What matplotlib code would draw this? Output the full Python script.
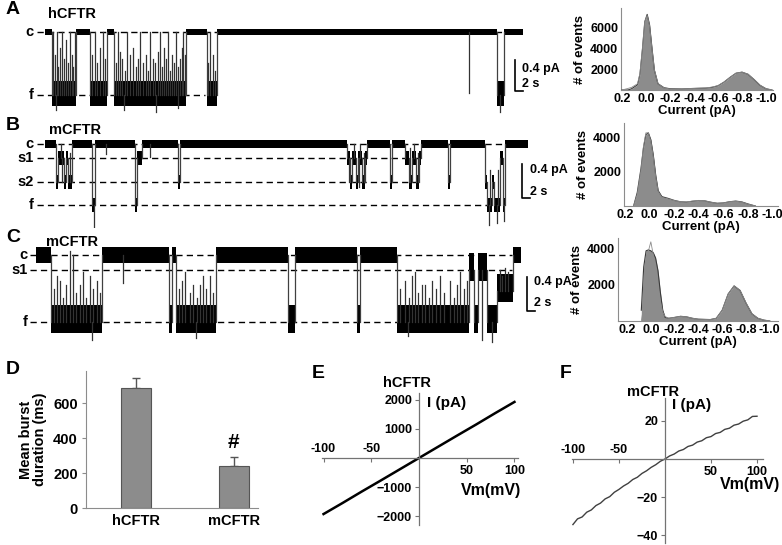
import numpy as np
import matplotlib
matplotlib.use("Agg")
import matplotlib.pyplot as plt

plt.rcParams['font.family'] = ['Liberation Sans', 'DejaVu Sans']
plt.rcParams['font.weight'] = 'bold'
plt.rcParams['axes.labelweight'] = 'bold'

W, H = 782, 545

# ---------------- data ----------------
# single channel traces: segment edges (s) and level of each segment (pA)
A_c, A_f = 0.0, -0.81
A_edges = [2.25, 4, 10, 13.5, 17.75, 19.5, 37.5, 42.75, 45.25, 115.25, 117, 121.75]
A_state = [A_c, A_f, A_c, A_f, A_c, A_f, A_c, A_f, A_c, A_f, A_c]
# brief flickers (time, level reached)
A_flick_t = [4.3, 4.75, 5.2, 5.5, 6.0, 6.5, 7.0, 7.5, 8.0, 8.5, 9.0, 9.25, 9.7,
             14.0, 14.75, 15.3, 16.0, 16.75, 17.3,
             20.0, 20.5, 21.0, 21.5, 22.2, 22.75, 23.4, 24.25, 24.9, 25.4, 26.0, 26.7,
             27.5, 28.0, 28.5, 29.2, 29.75, 30.4, 31.0, 31.5, 32.0, 32.6, 33.0, 33.6,
             34.0, 34.6, 35.0, 35.6, 36.0, 36.4, 36.75, 37.2,
             43.0, 43.5, 44.25, 44.8, 108.25,
             5.0, 22.0, 30.0, 35.5, 116.0]
A_flick_to = [0, -0.3, 0, -0.45, -0.2, 0, -0.35, -0.1, -0.4, 0, -0.3, -0.45, 0,
              -0.3, 0, -0.4, -0.2, 0, -0.35,
              -0.4, 0, -0.25, -0.35, -0.5, 0, -0.3, -0.2, -0.45, -0.35, 0, -0.4,
              -0.3, -0.5, 0, -0.35, -0.4, -0.25, 0, -0.45, -0.2, -0.35, 0, -0.5,
              -0.3, -0.4, 0, -0.45, -0.35, -0.2, 0, -0.3,
              -0.4, 0, -0.3, -0.5, -0.78,
              -1.0, -1.0, -1.02, -0.98, -1.02]
A_dash_lev = [A_c, A_f]
A_dash_end = [121, 42.25]
A_dash_lab = ['c', 'f']

B_c, B_s1, B_s2, B_f = 0.0, -0.165, -0.45, -0.72
B_edges = [2.25, 5, 5.5, 7, 7.5, 8, 9, 14, 14.75, 24.75, 25.25, 26.5, 35.5, 36, 77.75,
           78.5, 79, 80, 80.5, 81.5, 82.25, 82.75, 88.5, 89, 92.25, 93.25, 94, 95,
           95.75, 96.25, 103, 103.5, 112.25, 112.75, 114, 114.5, 116, 116.75, 117.25, 123]
B_state = [B_c, B_s2, B_s1, B_s2, B_s1, B_s2, B_c, B_f, B_c, B_f, B_s1, B_c, B_s2, B_c,
           B_s1, B_s2, B_s1, B_s2, B_s1, B_s2, B_s1, B_c, B_s2, B_c, B_s1, B_s2, B_s1,
           B_s2, B_s1, B_c, B_s2, B_c, B_s2, B_f, B_s2, B_f, B_s1, B_f, B_c]
B_flick_t = [6.2, 6.6, 8.4, 14.4, 17.5, 28.5, 78.2, 79.5, 80.8, 81, 81.9, 93.6, 94.5,
             95.4, 113.3, 113.6, 115.2, 115.6, 117.0]
B_flick_to = [0, -0.45, -0.1, -0.98, -0.12, -0.15, -0.45, 0, -0.5, 0, -0.1, -0.05, 0,
              -0.1, -0.95, -0.3, -0.93, -0.3, -0.9]
B_dash_lev = [B_c, B_s1, B_s2, B_f]
B_dash_end = [117.25, 95.75, 95.75, 113]
B_dash_lab = ['c', 's1', 's2', 'f']

C_c, C_s1, C_m, C_f = 0.0, -0.18, -0.42, -0.79
C_edges = [0, 3.75, 16.5, 33.25, 34, 35, 45, 63, 64.75, 80.25, 81, 90.25, 108.25, 109.5,
           110.5, 112.75, 115.25, 119.25, 121.25]
C_state = [C_c, C_f, C_c, C_f, C_c, C_f, C_c, C_f, C_c, C_f, C_c, C_f, C_s1, C_f, C_s1,
           C_f, C_m, C_c]
C_flick_t = [4.5, 5.2, 6.0, 6.8, 7.5, 8.5, 9.2, 10.0, 11.0, 11.8, 12.5, 13.5, 14.3, 15.2,
             16.0, 21.75,
             35.8, 36.5, 37.3, 38.5, 39.3, 40.2, 41.0, 41.8, 42.6, 43.5, 44.3,
             91.0, 92.25, 93.2, 94.0, 94.75, 95.6, 96.4, 97.25, 98.2, 99.0, 100.0, 101.0,
             102.0, 103.5, 104.4, 105.2, 106.0, 107.0, 107.8,
             116.0, 116.5, 117.3, 118.0, 14.0, 40.0, 93.0, 111.5, 114.0]
C_flick_to = [-0.4, -0.25, -0.3, -0.5, -0.35, 0.05, 0.0, -0.45, -0.35, -0.2, -0.5, -0.25,
              -0.4, -0.3, -0.45, -0.33,
              -0.4, -0.3, -0.2, -0.45, -0.35, -0.5, -0.35, -0.25, -0.4, -0.25, -0.45,
              -0.4, -0.3, -0.5, -0.25, -0.2, -0.45, -0.35, -0.35, -0.5, -0.3, -0.4, -0.25,
              -0.45, -0.3, -0.5, -0.35, -0.2, -0.4, -0.3,
              -0.18, -0.25, -0.15, -0.2, -1.0, -0.98, -0.95, -1.0, -1.02]
C_dash_lev = [C_c, C_s1, C_f]
C_dash_end = [119, 119, 90.25]
C_dash_lab = ['c', 's1', 'f']

# amplitude histograms
hist_ticks = [0.2, 0.0, -0.2, -0.4, -0.6, -0.8, -1.0]
hist_ticklabels = ['0.2', '0.0', '-0.2', '-0.4', '-0.6', '-0.8', '-1.0']

hA_x = [0.2, 0.15, 0.12, 0.07, 0.05, 0.03, 0.01, -0.01, -0.03, -0.05, -0.07, -0.1, -0.15,
        -0.2, -0.3, -0.4, -0.5, -0.55, -0.6, -0.65, -0.7, -0.75, -0.8, -0.85, -0.9,
        -0.95, -1.0, -1.05]
hA_n = [0, 0, 120, 500, 1500, 3800, 6500, 7200, 6200, 4000, 1900, 600, 220,
        120, 100, 150, 180, 250, 400, 750, 1200, 1600, 1700, 1500, 1000, 450, 120, 0]
hA_fit = [0, 150, 250, 600, 1600, 3900, 6500, 7100, 6100, 3900, 1900, 600, 200,
          100, 100, 150, 200, 280, 420, 760, 1200, 1600, 1700, 1500, 1000, 450, 120, 0]

hB_x = [0.13, 0.1, 0.07, 0.05, 0.03, 0.01, -0.01, -0.03, -0.05, -0.07, -0.1, -0.15, -0.2,
        -0.25, -0.3, -0.35, -0.4, -0.45, -0.5, -0.55, -0.6, -0.65, -0.7, -0.75, -0.8, -0.86]
hB_n = [0, 800, 2200, 3400, 4200, 4300, 3900, 3000, 1800, 900, 550, 450, 330,
        250, 230, 280, 320, 300, 220, 160, 180, 250, 290, 240, 120, 0]
hB_fit = [0, 700, 2100, 3500, 4300, 4300, 3800, 2900, 1700, 850, 500, 420, 320,
          250, 240, 290, 330, 300, 220, 160, 180, 250, 280, 230, 110, 0]

hC_x = [0.08, 0.06, 0.04, 0.02, 0.0, -0.02, -0.04, -0.06, -0.08, -0.1, -0.12, -0.15, -0.2,
        -0.25, -0.3, -0.35, -0.4, -0.5, -0.55, -0.6, -0.65, -0.7, -0.75, -0.8, -0.85,
        -0.9, -0.95, -1.0]
hC_n = [600, 3000, 3900, 3950, 3900, 3800, 3500, 2800, 1600, 600, 200, 150, 200,
        260, 230, 150, 100, 80, 150, 600, 1500, 1950, 1700, 1000, 400, 150, 50, 0]
hC_fit = [0, 800, 2600, 3900, 4400, 3700, 2800, 1900, 1100, 500, 250, 150, 200,
          260, 230, 150, 100, 80, 150, 600, 1500, 1950, 1700, 1000, 400, 150, 50, 0]

# D: mean burst duration
D_groups = ['hCFTR', 'mCFTR']
D_mean = [685, 238]
D_sem = [58, 55]

# E / F: I-V relations
E_v = [-100, -80, -60, -40, -20, 0, 20, 40, 60, 80, 100]
E_i = [-1920, -1540, -1150, -770, -385, 0, 385, 770, 1150, 1540, 1920]
F_v = [-100, -95, -90, -85, -80, -75, -70, -65, -60, -55, -50, -45, -40, -35, -30, -25,
       -20, -15, -10, -5, 0, 5, 10, 15, 20, 25, 30, 35, 40, 45, 50, 55, 60, 65, 70, 75,
       80, 85, 90, 95, 100]
F_i = [-34.5, -31.5, -30.5, -28.0, -26.8, -24.5, -23.2, -21.0, -19.8, -17.5, -16.0, -14.2,
       -12.8, -10.8, -9.6, -7.6, -6.2, -4.4, -3.0, -1.2, 0.0, 1.6, 2.6, 4.2, 5.0, 6.6,
       7.3, 8.9, 9.6, 11.2, 11.8, 13.4, 14.0, 15.6, 16.2, 17.8, 18.4, 19.9, 20.6, 22.4, 22.5]

# ---------------- helpers ----------------
fig = plt.figure(figsize=(W / 100, H / 100), dpi=100, facecolor='w')


def px_axes(x0, y0, x1, y1):
    return fig.add_axes([x0 / W, 1 - y1 / H, (x1 - x0) / W, (y1 - y0) / H])


def ftext(x, y, s, **kw):
    fig.text(x / W, 1 - y / H, s, **kw)


def draw_trace(ax, edges, state, flick_t, flick_to, hw_closed, open_lo, open_hi):
    edges = np.asarray(edges, float)
    for i, lev in enumerate(state):
        if lev == 0:
            lo, hi = hw_closed, hw_closed
        else:
            lo, hi = open_lo, open_hi
        ax.fill_between([edges[i], edges[i + 1]], lev - lo, lev + hi, color='k', lw=0, zorder=2)
        if i > 0:
            ax.plot([edges[i], edges[i]], [state[i - 1], lev], color='0.25', lw=0.9, zorder=2)
    for t, to in zip(flick_t, flick_to):
        k = min(np.searchsorted(edges, t) - 1, len(state) - 1)
        ax.plot([t, t], [state[k], to], color='0.2', lw=0.9, zorder=2)


def dashes(ax, levs, ends, labs, start, lab_x):
    for lev, end, lab in zip(levs, ends, labs):
        ax.plot([start, end], [lev, lev], color='k', lw=1.0, ls=(0, (4.5, 3)), zorder=1)
        ax.text(lab_x, lev, lab, ha='right', va='center', fontsize=10.5, fontweight='bold')


def scalebar(ax, t0, y0, lab_t, y_pa, y_s):
    ax.plot([t0, t0, t0 + 2], [y0 + 0.4, y0, y0], color='k', lw=1.2, clip_on=False)
    ax.text(lab_t, y_pa, '0.4 pA', fontsize=9, ha='left', va='center', clip_on=False)
    ax.text(lab_t, y_s, '2 s', fontsize=9, ha='left', va='center', clip_on=False)


def trace_axes(y0, y1, yc, ppa):
    ax = px_axes(0, y0, 560, y1)
    ax.set_xlim((0 - 36) / 4, (560 - 36) / 4)
    ax.set_ylim(-(y1 - yc) / ppa, (yc - y0) / ppa)
    ax.axis('off')
    return ax


# ---------------- traces ----------------
axA = trace_axes(0, 115, 32, 78)
dashes(axA, A_dash_lev, A_dash_end, A_dash_lab, 0.25, -0.5)
draw_trace(axA, A_edges, A_state, A_flick_t, A_flick_to, 0.04, 0.14, 0.18)
scalebar(axA, 119.75, -0.756, 121.5, -0.47, -0.665)

axB = trace_axes(115, 228, 144, 85)
dashes(axB, B_dash_lev, B_dash_end, B_dash_lab, 0.25, -0.5)
draw_trace(axB, B_edges, B_state, B_flick_t, B_flick_to, 0.05, 0.08, 0.08)
scalebar(axB, 121.5, -0.635, 123.5, -0.306, -0.565)

axC = trace_axes(228, 345, 255, 85)
dashes(axC, C_dash_lev, C_dash_end, C_dash_lab, -1.5, -2.0)
draw_trace(axC, C_edges, C_state, C_flick_t, C_flick_to, 0.09, 0.13, 0.2)
scalebar(axC, 122.75, -0.659, 124.5, -0.318, -0.565)

ftext(6, 10, 'A', fontsize=14, fontweight='bold', va='center')
ftext(6, 126, 'B', fontsize=14, fontweight='bold', va='center')
ftext(6, 238, 'C', fontsize=14, fontweight='bold', va='center')
ftext(72, 14, 'hCFTR', fontsize=10.5, fontweight='bold', ha='center', va='center')
ftext(75, 130, 'mCFTR', fontsize=10.5, fontweight='bold', ha='center', va='center')
ftext(72, 242, 'mCFTR', fontsize=10.5, fontweight='bold', ha='center', va='center')


# ---------------- histograms ----------------
def hist_panel(box, xlim, ylim, yt, x, n, fit):
    ax = px_axes(*box)
    ax.fill_between(x, n, color='#8c8c8c', lw=0, zorder=2)
    ax.plot(x, n, color='#3a3a3a', lw=0.8, zorder=3)
    ax.plot(x, fit, color='0.55', lw=0.6, zorder=3)
    ax.set_xlim(*xlim)
    ax.set_ylim(*ylim)
    ax.set_xticks(hist_ticks)
    ax.set_xticklabels(hist_ticklabels)
    ax.set_yticks(yt)
    ax.tick_params(length=0, labelsize=9, pad=2)
    for lab in ax.get_xticklabels() + ax.get_yticklabels():
        lab.set_fontweight('bold')
    for s in ['top', 'right']:
        ax.spines[s].set_visible(False)
    for s in ['left', 'bottom']:
        ax.spines[s].set_color('0.55')
        ax.spines[s].set_linewidth(0.8)
    ax.set_xlabel('Current (pA)', fontsize=9.5, labelpad=0)
    ax.set_ylabel('# of events', fontsize=9.5, labelpad=3)
    return ax


hist_panel((621, 8, 773, 90), (0.208, -1.058), (0, 7810), [2000, 4000, 6000], hA_x, hA_n, hA_fit)
hist_panel((624, 123, 778, 206), (0.208, -1.044), (0, 4880), [2000, 4000], hB_x, hB_n, hB_fit)
hist_panel((618, 238, 778, 321), (0.276, -1.069), (0, 4611), [2000, 4000], hC_x, hC_n, hC_fit)

# ---------------- D: bars ----------------
axD = px_axes(86, 371, 258, 508)
xpos = np.arange(len(D_groups))
axD.bar(xpos, D_mean, width=0.306, color='#8c8c8c', edgecolor='#555555', lw=0.8, zorder=2)
axD.errorbar(xpos, D_mean, yerr=[[0, 0], D_sem], fmt='none', ecolor='#555555',
             elinewidth=1, capsize=3, capthick=1, zorder=1)
axD.set_xlim(-0.51, 1.25)
axD.set_ylim(0, 783)
axD.set_xticks(xpos)
axD.set_xticklabels(D_groups)
axD.set_yticks([0, 200, 400, 600])
axD.tick_params(axis='x', length=0, labelsize=10.5, pad=4)
axD.tick_params(axis='y', length=3, labelsize=10.5, color='0.55', pad=3)
for lab in axD.get_xticklabels() + axD.get_yticklabels():
    lab.set_fontweight('bold')
for s in ['top', 'right']:
    axD.spines[s].set_visible(False)
for s in ['left', 'bottom']:
    axD.spines[s].set_color('0.55')
axD.set_ylabel('Mean burst\nduration (ms)', fontsize=10.5, labelpad=4, linespacing=1.0)
axD.text(1, D_mean[1] + D_sem[1] + 25, '#', ha='center', va='bottom', fontsize=15,
         fontweight='bold')
ftext(6, 370, 'D', fontsize=14, fontweight='bold', va='center')


# ---------------- E / F: I-V ----------------
def iv_axes(box, xlim, ylim, yt, xoff_up, xoff_dn):
    ax = px_axes(*box)
    ax.set_xlim(*xlim)
    ax.set_ylim(*ylim)
    for s in ['top', 'right']:
        ax.spines[s].set_visible(False)
    for s in ['left', 'bottom']:
        ax.spines[s].set_position(('data', 0))
        ax.spines[s].set_color('0.45')
        ax.spines[s].set_linewidth(0.9)
    ax.set_xticks([-100, -50, 50, 100])
    ax.set_xticklabels([])
    ax.set_yticks(yt)
    ax.tick_params(axis='both', length=3, color='0.45', labelsize=9, pad=2)
    for lab in ax.get_yticklabels():
        lab.set_fontweight('bold')
    for v in [-100, -50]:
        ax.annotate(str(v), (v, 0), xytext=(0, xoff_up), textcoords='offset points',
                    ha='center', va='bottom', fontsize=9, fontweight='bold')
    for v in [50, 100]:
        ax.annotate(str(v), (v, 0), xytext=(0, xoff_dn), textcoords='offset points',
                    ha='center', va='top', fontsize=9, fontweight='bold')
    return ax


axE = iv_axes((322, 393, 518, 525), (-101.6, 103.7), (-2295, 2226),
              [-2000, -1000, 1000, 2000], 2, -5)
axE.plot(E_v, E_i, color='k', lw=1.8)
ftext(312, 373, 'E', fontsize=14, fontweight='bold', va='center')
ftext(407, 383, 'hCFTR', fontsize=10.5, fontweight='bold', ha='center', va='center')
ftext(427, 403, 'I (pA)', fontsize=11, fontweight='bold', ha='left', va='center')
ftext(521, 490, 'Vm(mV)', fontsize=11.5, fontweight='bold', ha='right', va='center')

axF = iv_axes((572, 398, 763, 543), (-101, 106.5), (-44.2, 32.1),
              [-40, -20, 20], 2, -5)
axF.plot(F_v, F_i, color='0.25', lw=1.0)
ftext(560, 373, 'F', fontsize=14, fontweight='bold', va='center')
ftext(653, 392, 'mCFTR', fontsize=10.5, fontweight='bold', ha='center', va='center')
ftext(672, 405, 'I (pA)', fontsize=11, fontweight='bold', ha='left', va='center')
ftext(780, 485, 'Vm(mV)', fontsize=11.5, fontweight='bold', ha='right', va='center')

fig.savefig('out.png', dpi=100, facecolor='w')
